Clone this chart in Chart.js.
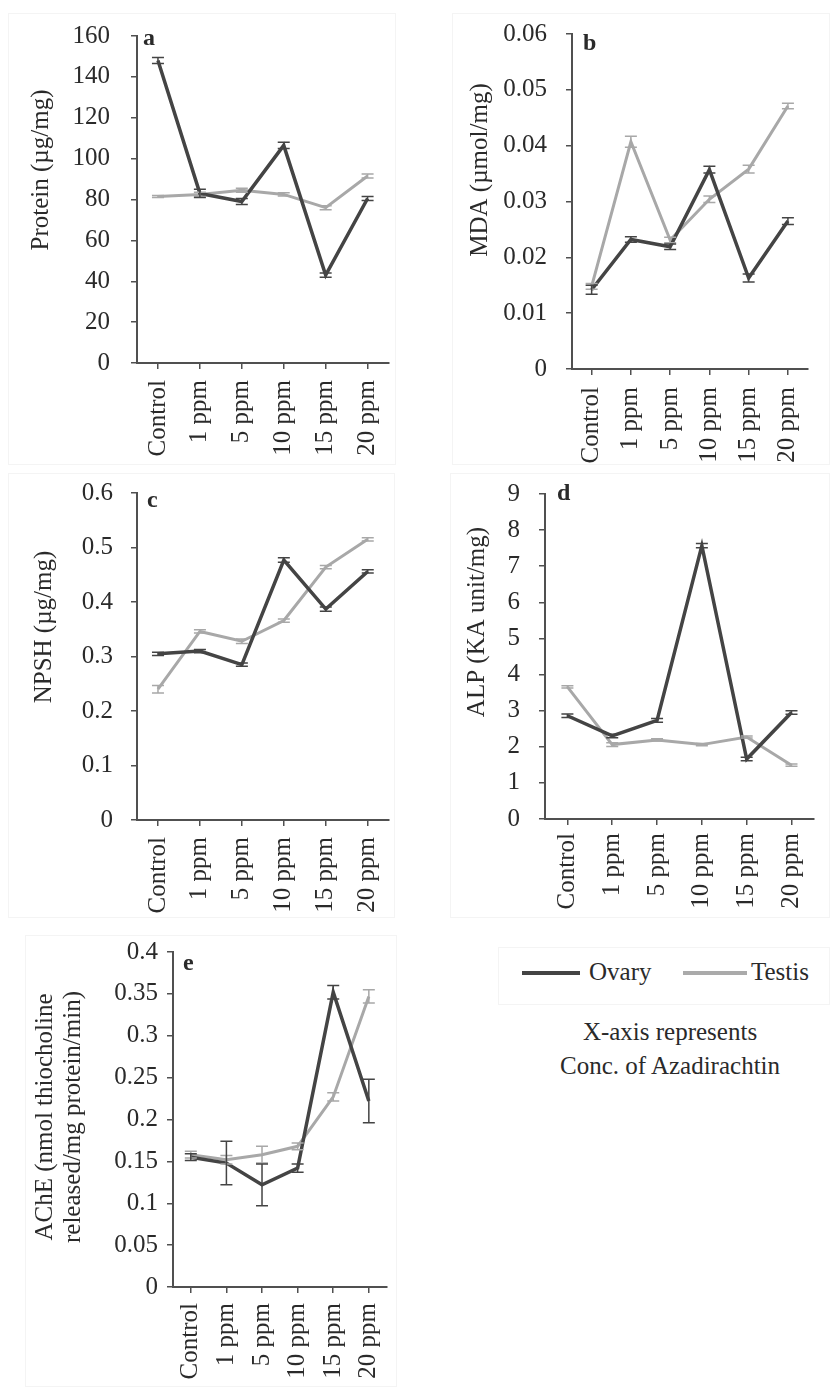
<!DOCTYPE html>
<html>
<head>
<meta charset="utf-8">
<script src="https://cdn.jsdelivr.net/npm/chart.js@4.4.0/dist/chart.umd.min.js"></script>
<style>
  html, body { margin: 0; padding: 0; background: #fff; }
  body { width: 830px; height: 1387px; position: relative; overflow: hidden;
         font-family: "Liberation Serif", "Times New Roman", serif; color: #2a2a2a; }
  .frame { position: absolute; border: 1px solid #f4f4f4; box-sizing: border-box; }
  canvas { position: absolute; }
  .legend-item { position: absolute; font-size: 25px; line-height: 30px; }
  .swatch { position: absolute; height: 4px; }
  .note { position: absolute; left: 540px; width: 260px; text-align: center; font-size: 25px; line-height: 34px; }
</style>
</head>
<body>
<div class="frame" style="left:8px;top:13px;width:388px;height:452px"></div>
<div class="frame" style="left:452px;top:13px;width:378px;height:452px"></div>
<div class="frame" style="left:8px;top:473px;width:387px;height:445px"></div>
<div class="frame" style="left:450px;top:473px;width:380px;height:445px"></div>
<div class="frame" style="left:25px;top:935px;width:372px;height:452px"></div>
<div class="frame" style="left:498px;top:947px;width:332px;height:58px"></div>

<canvas id="pa" width="410" height="470" style="left:0;top:0"></canvas>
<canvas id="pb" width="420" height="470" style="left:410px;top:0"></canvas>
<canvas id="pc" width="410" height="460" style="left:0;top:460px"></canvas>
<canvas id="pd" width="420" height="460" style="left:410px;top:460px"></canvas>
<canvas id="pe" width="410" height="467" style="left:0;top:920px"></canvas>

<div class="swatch" style="left:522px;top:971px;width:58px;background:#444"></div>
<div class="legend-item" id="legOvary" style="left:589px;top:957px"></div>
<div class="swatch" style="left:683px;top:971px;width:64px;background:#aaa"></div>
<div class="legend-item" id="legTestis" style="left:751px;top:957px"></div>
<div class="note" style="top:1015px">X-axis represents<br>Conc. of Azadirachtin</div>

<script>
// ---------------- DATA ----------------
const categories = ['Control', '1 ppm', '5 ppm', '10 ppm', '15 ppm', '20 ppm'];
const seriesNames = ['Ovary', 'Testis'];

const proteinOvary     = [148, 83, 79, 106.5, 43, 80.5];
const proteinOvaryErr  = [1.5, 2, 1.5, 1.5, 1, 1];
const proteinTestis    = [81.5, 82.5, 84.5, 82.5, 76, 91.5];
const proteinTestisErr = [0.5, 1, 1, 0.8, 1, 1];
const proteinTicks     = [0, 20, 40, 60, 80, 100, 120, 140, 160];

const mdaOvary     = [0.0142, 0.0232, 0.0219, 0.0357, 0.0163, 0.0265];
const mdaOvaryErr  = [0.0008, 0.0005, 0.0005, 0.0006, 0.0007, 0.0006];
const mdaTestis    = [0.0148, 0.0407, 0.0231, 0.0304, 0.0358, 0.0471];
const mdaTestisErr = [0.0005, 0.001, 0.0005, 0.0006, 0.0007, 0.0005];
const mdaTicks     = [0, 0.01, 0.02, 0.03, 0.04, 0.05, 0.06];

const npshOvary     = [0.305, 0.31, 0.285, 0.477, 0.387, 0.456];
const npshOvaryErr  = [0.003, 0.003, 0.003, 0.004, 0.004, 0.003];
const npshTestis    = [0.240, 0.346, 0.328, 0.366, 0.464, 0.515];
const npshTestisErr = [0.007, 0.003, 0.004, 0.003, 0.003, 0.003];
const npshTicks     = [0, 0.1, 0.2, 0.3, 0.4, 0.5, 0.6];

const alpOvary     = [2.86, 2.3, 2.73, 7.57, 1.66, 2.95];
const alpOvaryErr  = [0.05, 0.05, 0.05, 0.06, 0.05, 0.05];
const alpTestis    = [3.66, 2.06, 2.19, 2.06, 2.27, 1.49];
const alpTestisErr = [0.03, 0.05, 0.03, 0.03, 0.03, 0.03];
const alpTicks     = [0, 1, 2, 3, 4, 5, 6, 7, 8, 9];

const acheOvary     = [0.155, 0.148, 0.122, 0.142, 0.352, 0.222];
const acheOvaryErr  = [0.004, 0.026, 0.025, 0.005, 0.008, 0.026];
const acheTestis    = [0.158, 0.152, 0.158, 0.168, 0.227, 0.347];
const acheTestisErr = [0.004, 0.005, 0.010, 0.004, 0.005, 0.008];
const acheTicks     = [0, 0.05, 0.1, 0.15, 0.2, 0.25, 0.3, 0.35, 0.4];

// ---------------- STYLE ----------------
const OVARY_COLOR = '#444444';
const TESTIS_COLOR = '#a8a8a8';
const TEXT_COLOR = '#2a2a2a';
const AXIS_COLOR = '#505050';
const FONT = '"Liberation Serif", "Times New Roman", serif';

document.getElementById('legOvary').textContent = seriesNames[0];
document.getElementById('legTestis').textContent = seriesNames[1];

const errorBars = {
  id: 'errorBars',
  afterDatasetsDraw(chart) {
    const { ctx } = chart;
    const y = chart.scales.y;
    chart.data.datasets.forEach((ds, i) => {
      const meta = chart.getDatasetMeta(i);
      ctx.save();
      ctx.strokeStyle = ds.borderColor;
      ctx.lineWidth = 1.5;
      ds.errors.forEach((e, j) => {
        const px = meta.data[j].x;
        const v = ds.data[j];
        const yt = y.getPixelForValue(v + e);
        const yb = y.getPixelForValue(v - e);
        ctx.beginPath();
        ctx.moveTo(px, yt); ctx.lineTo(px, yb);
        ctx.moveTo(px - 6, yt); ctx.lineTo(px + 6, yt);
        ctx.moveTo(px - 6, yb); ctx.lineTo(px + 6, yb);
        ctx.stroke();
      });
      ctx.restore();
    });
  }
};

const annotations = {
  id: 'annotations',
  afterDraw(chart, args, opts) {
    const { ctx } = chart;
    ctx.save();
    ctx.fillStyle = TEXT_COLOR;
    ctx.save();
    ctx.translate(opts.titleX, opts.titleY);
    ctx.rotate(-Math.PI / 2);
    ctx.textAlign = 'center';
    ctx.textBaseline = 'middle';
    ctx.font = '25px ' + FONT;
    opts.title.forEach((t, k) => ctx.fillText(t, 0, k * opts.titleLH));
    ctx.restore();
    ctx.font = 'bold 24px ' + FONT;
    ctx.textAlign = 'left';
    ctx.textBaseline = 'middle';
    ctx.fillText(opts.letter, opts.letterX, opts.letterY);
    ctx.restore();
  }
};

function makePanel(id, ovary, ovaryErr, testis, testisErr, ticks, layout) {
  new Chart(document.getElementById(id), {
    type: 'line',
    data: {
      labels: categories,
      datasets: [
        { label: seriesNames[1], data: testis, errors: testisErr, borderColor: TESTIS_COLOR,
          borderWidth: 3, pointRadius: 0, tension: 0, order: 2 },
        { label: seriesNames[0], data: ovary, errors: ovaryErr, borderColor: OVARY_COLOR,
          borderWidth: 3.5, pointRadius: 0, tension: 0, order: 1 }
      ]
    },
    plugins: [errorBars, annotations],
    options: {
      responsive: false,
      animation: false,
      events: [],
      layout: { padding: { left: 0, top: layout.top, right: layout.right, bottom: 0 } },
      plugins: {
        legend: { display: false },
        tooltip: { enabled: false },
        annotations: layout.ann
      },
      scales: {
        x: {
          type: 'category',
          offset: true,
          grid: { drawOnChartArea: false, drawTicks: true, tickLength: 6, color: AXIS_COLOR, lineWidth: 1.5, offset: false },
          border: { display: true, color: AXIS_COLOR, width: 2 },
          ticks: { autoSkip: false, maxRotation: 90, minRotation: 90, padding: layout.xPad,
                   color: TEXT_COLOR, font: { family: FONT, size: 25 } },
          afterFit: s => { s.height = layout.xHeight; }
        },
        y: {
          min: ticks[0],
          max: ticks[ticks.length - 1],
          grid: { drawOnChartArea: false, drawTicks: true, tickLength: 6, color: AXIS_COLOR, lineWidth: 1.5 },
          border: { display: true, color: AXIS_COLOR, width: 2 },
          afterBuildTicks: s => { s.ticks = ticks.map(v => ({ value: v })); },
          ticks: { padding: layout.yPad, color: TEXT_COLOR, font: { family: FONT, size: 25 },
                   callback: v => String(v) },
          afterFit: s => { s.width = layout.yWidth; }
        }
      }
    }
  });
}

makePanel('pa', proteinOvary, proteinOvaryErr, proteinTestis, proteinTestisErr, proteinTicks, {
  top: 29, right: 17, yWidth: 137, xHeight: 107, yPad: 21, xPad: 11,
  ann: { title: ['Protein (µg/mg)'], titleX: 41, titleY: 170, titleLH: 28, letter: 'a', letterX: 143, letterY: 39 }
});
makePanel('pb', mdaOvary, mdaOvaryErr, mdaTestis, mdaTestisErr, mdaTicks, {
  top: 29, right: 1, yWidth: 162, xHeight: 101, yPad: 19, xPad: 12,
  ann: { title: ['MDA (µmol/mg)'], titleX: 70, titleY: 170, titleLH: 28, letter: 'b', letterX: 173, letterY: 44 }
});
makePanel('pc', npshOvary, npshOvaryErr, npshTestis, npshTestisErr, npshTicks, {
  top: 28, right: 15, yWidth: 137, xHeight: 100, yPad: 18, xPad: 11,
  ann: { title: ['NPSH (µg/mg)'], titleX: 44, titleY: 167, titleLH: 28, letter: 'c', letterX: 147, letterY: 41 }
});
makePanel('pd', alpOvary, alpOvaryErr, alpTestis, alpTestisErr, alpTicks, {
  top: 22, right: 6, yWidth: 135, xHeight: 101, yPad: 19, xPad: 8,
  ann: { title: ['ALP (KA unit/mg)'], titleX: 67, titleY: 162, titleLH: 28, letter: 'd', letterX: 147, letterY: 34 }
});
makePanel('pe', acheOvary, acheOvaryErr, acheTestis, acheTestisErr, acheTicks, {
  top: 32, right: 14, yWidth: 173, xHeight: 100, yPad: 9, xPad: 10,
  ann: { title: ['AChE (nmol thiocholine', 'released/mg protein/min)'], titleX: 45, titleY: 197, titleLH: 28,
         letter: 'e', letterX: 183, letterY: 44 }
});
</script>
</body>
</html>
